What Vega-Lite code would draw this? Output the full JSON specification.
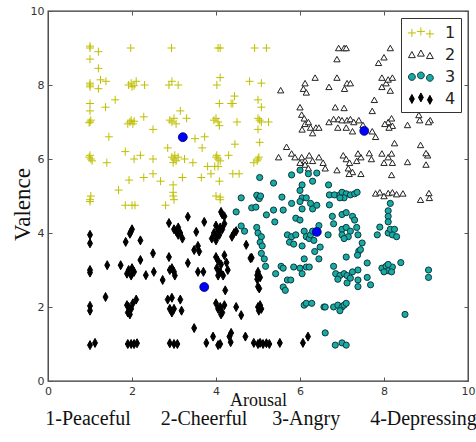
{
  "$schema": "https://vega.github.io/schema/vega-lite/v6.json",
  "width": 420,
  "height": 370,
  "autosize": {"type": "none"},
  "padding": {"left": 48, "top": 11, "right": 8, "bottom": 61},
  "background": "#ffffff",
  "config": {
    "view": {"stroke": "#333333", "strokeWidth": 1.3},
    "axis": {"grid": false, "domain": false, "labelFlush": false, "labelOverlap": false, "tickSize": -4, "tickColor": "#555555", "tickWidth": 1, "labelPadding": 8, "labelFont": "DejaVu Sans", "labelFontSize": 11, "labelColor": "#333333"}
  },
  "title": {
    "text": "1-Peaceful\u00a0\u00a0\u00a0\u00a0\u00a0 2-Cheerful\u00a0\u00a0\u00a0\u00a0 3-Angry\u00a0\u00a0\u00a0\u00a0\u00a0 4-Depressing",
    "orient": "bottom",
    "anchor": "middle",
    "baseline": "alphabetic",
    "offset": 16,
    "dx": 3,
    "font": "Liberation Serif",
    "fontSize": 20,
    "fontWeight": "normal",
    "color": "#111111"
  },
  "resolve": {"axis": {"x": "independent", "y": "independent"}},
  "layer": [
    {
      "data": {"values": [
{"a":1,"v":9,"g":"1"},{"a":1,"v":9.05,"g":"1"},{"a":1,"v":8.7,"g":"1"},{"a":1.2,"v":8.9,"g":"1"},{"a":1.2,"v":8.45,"g":"1"},{"a":1.97,"v":9,"g":"1"},{"a":2.94,"v":9,"g":"1"},{"a":4.05,"v":9,"g":"1"},{"a":4.1,"v":9,"g":"1"},{"a":4.92,"v":9,"g":"1"},{"a":5.2,"v":9,"g":"1"},
{"a":1,"v":8.0,"g":"1"},{"a":1,"v":8.05,"g":"1"},{"a":1,"v":7.95,"g":"1"},{"a":1.25,"v":8.14,"g":"1"},{"a":1.2,"v":7.9,"g":"1"},{"a":1.38,"v":8.1,"g":"1"},{"a":1.92,"v":8.0,"g":"1"},{"a":1.98,"v":8.05,"g":"1"},{"a":2.0,"v":7.95,"g":"1"},{"a":2.1,"v":8.1,"g":"1"},{"a":2.05,"v":7.98,"g":"1"},{"a":2.3,"v":8.0,"g":"1"},{"a":2.88,"v":8.0,"g":"1"},{"a":2.95,"v":8.1,"g":"1"},{"a":3.1,"v":8.0,"g":"1"},{"a":4.02,"v":8.0,"g":"1"},{"a":4.1,"v":8.2,"g":"1"},{"a":4.44,"v":7.7,"g":"1"},{"a":4.8,"v":8.1,"g":"1"},{"a":5.08,"v":8.05,"g":"1"},{"a":5.0,"v":7.6,"g":"1"},{"a":5.08,"v":7.4,"g":"1"},{"a":4.4,"v":7.5,"g":"1"},{"a":4.08,"v":7.5,"g":"1"},
{"a":1,"v":7.5,"g":"1"},{"a":1.37,"v":7.4,"g":"1"},{"a":1.6,"v":7.6,"g":"1"},{"a":1,"v":7.3,"g":"1"},
{"a":1,"v":7.0,"g":"1"},{"a":1.02,"v":7.05,"g":"1"},{"a":0.98,"v":6.98,"g":"1"},{"a":1.95,"v":7.0,"g":"1"},{"a":1.98,"v":7.05,"g":"1"},{"a":2.02,"v":6.95,"g":"1"},{"a":2.05,"v":7.02,"g":"1"},{"a":1.9,"v":6.95,"g":"1"},{"a":2.28,"v":7.14,"g":"1"},{"a":2.5,"v":6.8,"g":"1"},{"a":2.95,"v":7.0,"g":"1"},{"a":3.0,"v":7.1,"g":"1"},{"a":3.05,"v":6.95,"g":"1"},{"a":2.9,"v":7.05,"g":"1"},{"a":3.15,"v":7.3,"g":"1"},{"a":3.3,"v":7.1,"g":"1"},{"a":4.0,"v":7.1,"g":"1"},{"a":4.05,"v":7.0,"g":"1"},{"a":3.95,"v":7.05,"g":"1"},{"a":4.08,"v":6.9,"g":"1"},{"a":4.36,"v":7.5,"g":"1"},{"a":4.5,"v":7.0,"g":"1"},{"a":5.04,"v":7.05,"g":"1"},{"a":5.0,"v":7.1,"g":"1"},{"a":5.08,"v":7.0,"g":"1"},{"a":5.25,"v":7.0,"g":"1"},{"a":5.0,"v":6.8,"g":"1"},{"a":5.04,"v":6.45,"g":"1"},
{"a":1.45,"v":6.6,"g":"1"},{"a":1,"v":6.1,"g":"1"},{"a":1.02,"v":6.0,"g":"1"},{"a":0.98,"v":6.05,"g":"1"},{"a":1.05,"v":5.95,"g":"1"},{"a":1.4,"v":5.9,"g":"1"},{"a":1.84,"v":6.2,"g":"1"},{"a":2.05,"v":6.0,"g":"1"},{"a":2.2,"v":6.1,"g":"1"},{"a":2.5,"v":6.0,"g":"1"},{"a":2.85,"v":6.3,"g":"1"},{"a":3.0,"v":6.0,"g":"1"},{"a":2.95,"v":6.05,"g":"1"},{"a":3.05,"v":5.95,"g":"1"},{"a":3.02,"v":6.1,"g":"1"},{"a":2.98,"v":5.9,"g":"1"},{"a":3.1,"v":6.05,"g":"1"},{"a":3.25,"v":6.0,"g":"1"},{"a":3.45,"v":5.9,"g":"1"},{"a":3.67,"v":6.3,"g":"1"},{"a":3.73,"v":6.6,"g":"1"},{"a":3.5,"v":6.55,"g":"1"},{"a":4.05,"v":6.0,"g":"1"},{"a":4.0,"v":6.05,"g":"1"},{"a":4.1,"v":5.95,"g":"1"},{"a":4.02,"v":6.1,"g":"1"},{"a":4.3,"v":6.1,"g":"1"},{"a":4.45,"v":6.4,"g":"1"},{"a":3.8,"v":5.8,"g":"1"},{"a":5.0,"v":6.0,"g":"1"},{"a":5.02,"v":6.05,"g":"1"},{"a":4.98,"v":5.95,"g":"1"},{"a":4.9,"v":5.9,"g":"1"},{"a":4.05,"v":5.8,"g":"1"},{"a":3.97,"v":5.8,"g":"1"},
{"a":1.68,"v":5.16,"g":"1"},{"a":1.93,"v":5.43,"g":"1"},{"a":2.28,"v":5.5,"g":"1"},{"a":2.5,"v":5.6,"g":"1"},{"a":2.68,"v":5.4,"g":"1"},{"a":2.98,"v":5.3,"g":"1"},{"a":2.98,"v":5.1,"g":"1"},{"a":3.2,"v":5.5,"g":"1"},{"a":3.65,"v":5.5,"g":"1"},{"a":3.88,"v":5.6,"g":"1"},{"a":4.08,"v":5.4,"g":"1"},{"a":4.4,"v":5.6,"g":"1"},{"a":4.55,"v":5.6,"g":"1"},
{"a":1,"v":4.9,"g":"1"},{"a":1,"v":4.85,"g":"1"},{"a":1.02,"v":5.0,"g":"1"},{"a":1.84,"v":4.75,"g":"1"},{"a":2.07,"v":4.75,"g":"1"},{"a":2.0,"v":4.75,"g":"1"},{"a":2.8,"v":4.75,"g":"1"},{"a":2.98,"v":5.0,"g":"1"},{"a":3.0,"v":4.9,"g":"1"},{"a":4.0,"v":5.0,"g":"1"},{"a":4.1,"v":4.9,"g":"1"},{"a":4.1,"v":4.97,"g":"1"},
{"a":6.92,"v":9.0,"g":"2"},{"a":7.05,"v":9.0,"g":"2"},{"a":7.1,"v":9.0,"g":"2"},{"a":6.88,"v":8.7,"g":"2"},{"a":8.15,"v":9.0,"g":"2"},{"a":8.0,"v":8.75,"g":"2"},{"a":7.87,"v":8.6,"g":"2"},{"a":5.54,"v":7.86,"g":"2"},
{"a":6.12,"v":8.05,"g":"2"},{"a":6.08,"v":7.9,"g":"2"},{"a":6.15,"v":7.8,"g":"2"},{"a":6.36,"v":8.2,"g":"2"},{"a":6.69,"v":7.95,"g":"2"},{"a":6.88,"v":8.2,"g":"2"},{"a":7.12,"v":8.05,"g":"2"},{"a":7.2,"v":8.05,"g":"2"},{"a":7.06,"v":7.9,"g":"2"},
{"a":7.95,"v":8.2,"g":"2"},{"a":8.05,"v":8.05,"g":"2"},{"a":8.1,"v":8.15,"g":"2"},{"a":8.2,"v":8.2,"g":"2"},{"a":7.95,"v":7.95,"g":"2"},{"a":8.15,"v":7.85,"g":"2"},
{"a":6.0,"v":7.4,"g":"2"},{"a":6.04,"v":7.2,"g":"2"},{"a":6.1,"v":7.1,"g":"2"},{"a":6.12,"v":6.95,"g":"2"},{"a":6.05,"v":6.8,"g":"2"},{"a":6.2,"v":7.0,"g":"2"},{"a":6.25,"v":6.85,"g":"2"},{"a":6.3,"v":6.7,"g":"2"},{"a":6.38,"v":6.85,"g":"2"},{"a":6.45,"v":6.85,"g":"2"},
{"a":6.84,"v":7.4,"g":"2"},{"a":7.05,"v":7.38,"g":"2"},{"a":6.69,"v":7.0,"g":"2"},{"a":6.8,"v":7.08,"g":"2"},{"a":6.92,"v":7.08,"g":"2"},{"a":7.0,"v":7.05,"g":"2"},{"a":7.12,"v":7.05,"g":"2"},{"a":7.2,"v":7.08,"g":"2"},{"a":7.28,"v":7.0,"g":"2"},{"a":6.9,"v":6.85,"g":"2"},{"a":7.1,"v":6.85,"g":"2"},{"a":7.25,"v":6.75,"g":"2"},
{"a":7.77,"v":7.6,"g":"2"},{"a":7.72,"v":7.3,"g":"2"},{"a":7.4,"v":7.05,"g":"2"},{"a":7.5,"v":6.92,"g":"2"},{"a":8.1,"v":7.0,"g":"2"},{"a":8.18,"v":7.1,"g":"2"},{"a":8.2,"v":6.9,"g":"2"},{"a":8.12,"v":6.85,"g":"2"},{"a":8.02,"v":6.95,"g":"2"},{"a":7.72,"v":6.75,"g":"2"},{"a":7.8,"v":6.6,"g":"2"},{"a":8.56,"v":6.92,"g":"2"},{"a":8.85,"v":7.05,"g":"2"},{"a":9.1,"v":7.05,"g":"2"},{"a":8.83,"v":7.19,"g":"2"},{"a":9.06,"v":7.0,"g":"2"},
{"a":5.68,"v":6.33,"g":"2"},{"a":5.8,"v":6.15,"g":"2"},{"a":5.88,"v":6.05,"g":"2"},{"a":5.49,"v":6.05,"g":"2"},{"a":6.04,"v":6.05,"g":"2"},{"a":6.12,"v":5.95,"g":"2"},{"a":6.22,"v":6.1,"g":"2"},{"a":6.3,"v":5.95,"g":"2"},{"a":6.12,"v":5.85,"g":"2"},{"a":6.0,"v":5.9,"g":"2"},{"a":6.2,"v":5.75,"g":"2"},{"a":6.45,"v":6.05,"g":"2"},{"a":6.55,"v":5.9,"g":"2"},{"a":6.6,"v":5.75,"g":"2"},{"a":6.88,"v":5.7,"g":"2"},
{"a":7.03,"v":6.1,"g":"2"},{"a":7.1,"v":6.0,"g":"2"},{"a":7.18,"v":5.9,"g":"2"},{"a":7.15,"v":5.75,"g":"2"},{"a":7.25,"v":5.65,"g":"2"},{"a":7.35,"v":5.95,"g":"2"},{"a":7.45,"v":6.05,"g":"2"},{"a":7.38,"v":6.15,"g":"2"},{"a":7.65,"v":6.16,"g":"2"},{"a":7.7,"v":6.0,"g":"2"},{"a":7.95,"v":6.15,"g":"2"},{"a":8.1,"v":6.05,"g":"2"},{"a":8.18,"v":6.15,"g":"2"},{"a":8.2,"v":5.9,"g":"2"},{"a":8.0,"v":5.9,"g":"2"},{"a":8.25,"v":6.43,"g":"2"},{"a":8.56,"v":5.92,"g":"2"},{"a":9.04,"v":6.1,"g":"2"},{"a":9.0,"v":5.85,"g":"2"},{"a":7.17,"v":5.6,"g":"2"},{"a":7.45,"v":5.6,"g":"2"},{"a":8.18,"v":5.57,"g":"2"},{"a":8.87,"v":6.38,"g":"2"},{"a":9.0,"v":6.16,"g":"2"},
{"a":7.8,"v":5.07,"g":"2"},{"a":7.9,"v":5.1,"g":"2"},{"a":8.0,"v":5.0,"g":"2"},{"a":8.1,"v":5.08,"g":"2"},{"a":8.2,"v":5.1,"g":"2"},{"a":8.3,"v":5.05,"g":"2"},{"a":8.45,"v":5.07,"g":"2"},{"a":8.87,"v":4.9,"g":"2"},{"a":9.07,"v":5.08,"g":"2"},{"a":9.08,"v":4.95,"g":"2"},
{"a":5.04,"v":5.5,"g":"3"},{"a":5.37,"v":5.35,"g":"3"},{"a":5.8,"v":5.57,"g":"3"},{"a":6.0,"v":5.7,"g":"3"},{"a":6.2,"v":5.6,"g":"3"},{"a":6.4,"v":5.62,"g":"3"},{"a":6.3,"v":5.4,"g":"3"},{"a":6.05,"v":5.3,"g":"3"},
{"a":4.6,"v":4.95,"g":"3"},{"a":5.0,"v":4.97,"g":"3"},{"a":4.97,"v":5.02,"g":"3"},{"a":5.03,"v":4.93,"g":"3"},{"a":5.06,"v":5.0,"g":"3"},{"a":4.85,"v":4.68,"g":"3"},{"a":4.95,"v":4.7,"g":"3"},{"a":4.48,"v":4.57,"g":"3"},{"a":5.2,"v":4.49,"g":"3"},{"a":5.37,"v":4.62,"g":"3"},{"a":5.4,"v":4.3,"g":"3"},{"a":5.6,"v":4.62,"g":"3"},{"a":5.57,"v":4.97,"g":"3"},{"a":5.8,"v":4.8,"g":"3"},
{"a":6.0,"v":5.15,"g":"3"},{"a":6.05,"v":4.95,"g":"3"},{"a":6.15,"v":4.95,"g":"3"},{"a":6.0,"v":4.85,"g":"3"},{"a":6.25,"v":4.8,"g":"3"},{"a":6.3,"v":4.65,"g":"3"},{"a":6.4,"v":4.75,"g":"3"},{"a":6.05,"v":4.65,"g":"3"},{"a":5.9,"v":4.4,"g":"3"},{"a":6.0,"v":4.35,"g":"3"},
{"a":4.6,"v":4.19,"g":"3"},{"a":4.68,"v":4.05,"g":"3"},{"a":4.97,"v":4.15,"g":"3"},{"a":5.0,"v":4.0,"g":"3"},{"a":5.08,"v":3.9,"g":"3"},{"a":5.05,"v":3.75,"g":"3"},{"a":5.1,"v":3.65,"g":"3"},{"a":5.08,"v":3.45,"g":"3"},{"a":5.15,"v":3.3,"g":"3"},{"a":5.18,"v":3.1,"g":"3"},
{"a":5.7,"v":3.95,"g":"3"},{"a":5.8,"v":3.9,"g":"3"},{"a":5.75,"v":3.75,"g":"3"},{"a":5.85,"v":3.7,"g":"3"},{"a":5.9,"v":3.95,"g":"3"},{"a":6.1,"v":4.05,"g":"3"},{"a":6.15,"v":3.9,"g":"3"},{"a":6.22,"v":3.85,"g":"3"},{"a":6.25,"v":3.95,"g":"3"},{"a":6.3,"v":4.05,"g":"3"},{"a":6.33,"v":3.8,"g":"3"},{"a":6.05,"v":3.65,"g":"3"},
{"a":6.45,"v":4.2,"g":"3"},{"a":6.48,"v":3.62,"g":"3"},{"a":6.35,"v":3.5,"g":"3"},{"a":6.1,"v":3.3,"g":"3"},{"a":6.45,"v":3.3,"g":"3"},
{"a":5.42,"v":2.9,"g":"3"},{"a":5.55,"v":3.1,"g":"3"},{"a":5.6,"v":3.05,"g":"3"},{"a":5.7,"v":2.73,"g":"3"},{"a":5.78,"v":2.73,"g":"3"},{"a":5.6,"v":2.54,"g":"3"},{"a":5.65,"v":2.45,"g":"3"},{"a":5.85,"v":3.08,"g":"3"},{"a":6.0,"v":3.05,"g":"3"},{"a":6.05,"v":2.9,"g":"3"},{"a":6.15,"v":3.08,"g":"3"},{"a":6.22,"v":3.08,"g":"3"},
{"a":6.1,"v":2.05,"g":"3"},{"a":6.15,"v":2.1,"g":"3"},{"a":6.28,"v":2.1,"g":"3"},{"a":6.57,"v":2.0,"g":"3"},
{"a":6.68,"v":5.3,"g":"3"},{"a":6.7,"v":5.03,"g":"3"},{"a":6.82,"v":5.03,"g":"3"},{"a":6.95,"v":5.03,"g":"3"},{"a":7.0,"v":5.1,"g":"3"},{"a":7.1,"v":5.06,"g":"3"},{"a":7.2,"v":5.03,"g":"3"},{"a":7.3,"v":5.06,"g":"3"},{"a":7.36,"v":5.1,"g":"3"},{"a":7.05,"v":4.95,"g":"3"},{"a":6.95,"v":4.95,"g":"3"},{"a":6.7,"v":4.76,"g":"3"},{"a":8.15,"v":4.8,"g":"3"},
{"a":7.0,"v":4.5,"g":"3"},{"a":7.1,"v":4.55,"g":"3"},{"a":7.25,"v":4.45,"g":"3"},{"a":7.3,"v":4.35,"g":"3"},{"a":6.77,"v":4.45,"g":"3"},{"a":6.8,"v":4.25,"g":"3"},
{"a":7.0,"v":4.1,"g":"3"},{"a":7.1,"v":4.15,"g":"3"},{"a":7.2,"v":4.05,"g":"3"},{"a":7.35,"v":4.15,"g":"3"},{"a":7.0,"v":3.95,"g":"3"},{"a":7.15,"v":3.9,"g":"3"},{"a":7.38,"v":3.95,"g":"3"},{"a":7.05,"v":3.85,"g":"3"},{"a":6.67,"v":3.95,"g":"3"},{"a":7.48,"v":3.73,"g":"3"},{"a":7.4,"v":3.51,"g":"3"},{"a":7.44,"v":3.55,"g":"3"},{"a":7.1,"v":3.35,"g":"3"},{"a":7.37,"v":3.4,"g":"3"},
{"a":6.8,"v":3.1,"g":"3"},{"a":6.85,"v":2.9,"g":"3"},{"a":6.95,"v":2.85,"g":"3"},{"a":7.05,"v":2.9,"g":"3"},{"a":7.12,"v":2.85,"g":"3"},{"a":7.2,"v":2.78,"g":"3"},{"a":7.25,"v":2.95,"g":"3"},{"a":6.9,"v":2.75,"g":"3"},{"a":7.6,"v":3.19,"g":"3"},{"a":7.38,"v":3.0,"g":"3"},{"a":7.38,"v":2.73,"g":"3"},{"a":7.38,"v":2.55,"g":"3"},{"a":7.6,"v":2.8,"g":"3"},{"a":7.68,"v":2.6,"g":"3"},{"a":7.12,"v":2.65,"g":"3"},
{"a":7.9,"v":4.16,"g":"3"},{"a":7.84,"v":3.95,"g":"3"},{"a":8.1,"v":4.6,"g":"3"},{"a":8.1,"v":4.45,"g":"3"},{"a":8.1,"v":4.3,"g":"3"},{"a":8.1,"v":4.0,"g":"3"},{"a":8.2,"v":3.95,"g":"3"},{"a":8.15,"v":4.1,"g":"3"},{"a":8.25,"v":4.1,"g":"3"},{"a":8.3,"v":3.9,"g":"3"},
{"a":7.95,"v":3.05,"g":"3"},{"a":8.05,"v":3.1,"g":"3"},{"a":8.1,"v":2.98,"g":"3"},{"a":8.2,"v":3.08,"g":"3"},{"a":8.0,"v":2.95,"g":"3"},{"a":8.18,"v":2.95,"g":"3"},{"a":8.1,"v":3.15,"g":"3"},{"a":8.4,"v":3.2,"g":"3"},{"a":9.06,"v":3.0,"g":"3"},{"a":9.06,"v":2.8,"g":"3"},{"a":8.5,"v":1.8,"g":"3"},
{"a":6.6,"v":2.0,"g":"3"},{"a":6.8,"v":2.0,"g":"3"},{"a":6.9,"v":2.05,"g":"3"},{"a":7.0,"v":2.0,"g":"3"},{"a":7.05,"v":2.05,"g":"3"},{"a":7.1,"v":2.1,"g":"3"},{"a":6.95,"v":1.9,"g":"3"},{"a":6.6,"v":1.3,"g":"3"},{"a":6.84,"v":0.97,"g":"3"},{"a":7.0,"v":1.03,"g":"3"},{"a":7.1,"v":0.97,"g":"3"},
{"a":1.0,"v":3.95,"g":"4"},{"a":1.0,"v":3.72,"g":"4"},{"a":1.97,"v":4.03,"g":"4"},{"a":2.0,"v":4.1,"g":"4"},{"a":1.95,"v":3.98,"g":"4"},{"a":1.85,"v":3.76,"g":"4"},{"a":2.2,"v":3.8,"g":"4"},{"a":2.5,"v":3.45,"g":"4"},
{"a":2.88,"v":4.27,"g":"4"},{"a":3.0,"v":4.1,"g":"4"},{"a":3.05,"v":4.05,"g":"4"},{"a":3.1,"v":3.95,"g":"4"},{"a":3.15,"v":4.0,"g":"4"},{"a":3.2,"v":3.85,"g":"4"},{"a":3.1,"v":4.15,"g":"4"},{"a":3.33,"v":4.44,"g":"4"},{"a":3.53,"v":4.03,"g":"4"},{"a":3.48,"v":3.54,"g":"4"},{"a":3.6,"v":3.5,"g":"4"},{"a":3.57,"v":3.65,"g":"4"},{"a":3.72,"v":4.3,"g":"4"},
{"a":3.9,"v":3.85,"g":"4"},{"a":3.95,"v":4.0,"g":"4"},{"a":4.0,"v":4.2,"g":"4"},{"a":4.05,"v":4.05,"g":"4"},{"a":4.1,"v":4.15,"g":"4"},{"a":4.02,"v":3.9,"g":"4"},{"a":4.08,"v":3.95,"g":"4"},{"a":4.15,"v":4.1,"g":"4"},{"a":4.2,"v":4.25,"g":"4"},{"a":4.15,"v":4.5,"g":"4"},{"a":4.2,"v":4.45,"g":"4"},{"a":4.12,"v":4.57,"g":"4"},{"a":4.0,"v":3.8,"g":"4"},{"a":4.43,"v":4.0,"g":"4"},{"a":4.48,"v":4.05,"g":"4"},{"a":4.38,"v":3.9,"g":"4"},
{"a":1.0,"v":3.0,"g":"4"},{"a":1.0,"v":2.93,"g":"4"},{"a":1.41,"v":3.13,"g":"4"},{"a":1.73,"v":3.13,"g":"4"},{"a":1.92,"v":3.0,"g":"4"},{"a":2.0,"v":3.05,"g":"4"},{"a":2.05,"v":2.95,"g":"4"},{"a":1.98,"v":2.85,"g":"4"},{"a":1.88,"v":2.9,"g":"4"},{"a":2.2,"v":3.27,"g":"4"},{"a":2.33,"v":2.86,"g":"4"},{"a":2.52,"v":2.95,"g":"4"},{"a":2.73,"v":2.73,"g":"4"},{"a":2.9,"v":3.0,"g":"4"},{"a":2.95,"v":3.05,"g":"4"},{"a":3.0,"v":2.95,"g":"4"},{"a":3.02,"v":2.85,"g":"4"},{"a":2.88,"v":3.35,"g":"4"},{"a":3.33,"v":3.19,"g":"4"},{"a":3.57,"v":2.95,"g":"4"},{"a":3.7,"v":2.95,"g":"4"},
{"a":4.0,"v":3.35,"g":"4"},{"a":4.05,"v":3.25,"g":"4"},{"a":4.12,"v":3.15,"g":"4"},{"a":4.02,"v":3.05,"g":"4"},{"a":4.1,"v":2.95,"g":"4"},{"a":4.17,"v":2.85,"g":"4"},{"a":4.05,"v":2.85,"g":"4"},{"a":4.2,"v":3.4,"g":"4"},{"a":4.25,"v":3.2,"g":"4"},{"a":4.28,"v":3.0,"g":"4"},{"a":4.72,"v":3.68,"g":"4"},{"a":4.85,"v":3.33,"g":"4"},{"a":4.82,"v":3.32,"g":"4"},{"a":4.98,"v":2.86,"g":"4"},{"a":5.0,"v":2.95,"g":"4"},{"a":5.05,"v":2.8,"g":"4"},{"a":4.98,"v":2.75,"g":"4"},{"a":5.0,"v":2.55,"g":"4"},{"a":5.03,"v":2.5,"g":"4"},
{"a":1.0,"v":2.03,"g":"4"},{"a":1.0,"v":1.9,"g":"4"},{"a":1.37,"v":2.27,"g":"4"},{"a":1.88,"v":2.05,"g":"4"},{"a":1.92,"v":2.0,"g":"4"},{"a":1.98,"v":1.95,"g":"4"},{"a":2.02,"v":2.1,"g":"4"},{"a":2.1,"v":2.2,"g":"4"},{"a":1.95,"v":1.8,"g":"4"},{"a":1.9,"v":1.85,"g":"4"},{"a":2.85,"v":2.2,"g":"4"},{"a":2.95,"v":2.25,"g":"4"},{"a":2.9,"v":1.95,"g":"4"},{"a":2.95,"v":1.85,"g":"4"},{"a":3.0,"v":1.95,"g":"4"},{"a":3.15,"v":2.2,"g":"4"},{"a":3.18,"v":1.9,"g":"4"},
{"a":4.0,"v":2.1,"g":"4"},{"a":4.1,"v":2.0,"g":"4"},{"a":4.15,"v":1.85,"g":"4"},{"a":4.2,"v":2.05,"g":"4"},{"a":4.12,"v":1.8,"g":"4"},{"a":4.05,"v":1.95,"g":"4"},{"a":4.22,"v":2.45,"g":"4"},{"a":4.48,"v":2.0,"g":"4"},{"a":4.6,"v":1.78,"g":"4"},{"a":5.0,"v":2.0,"g":"4"},{"a":5.05,"v":2.05,"g":"4"},{"a":5.08,"v":1.95,"g":"4"},{"a":5.02,"v":1.9,"g":"4"},
{"a":3.48,"v":1.43,"g":"4"},{"a":1.0,"v":0.97,"g":"4"},{"a":1.12,"v":1.03,"g":"4"},{"a":1.9,"v":1.0,"g":"4"},{"a":1.98,"v":1.0,"g":"4"},{"a":2.05,"v":1.0,"g":"4"},{"a":2.12,"v":1.02,"g":"4"},{"a":2.9,"v":1.02,"g":"4"},{"a":3.0,"v":1.0,"g":"4"},{"a":3.08,"v":1.0,"g":"4"},
{"a":3.77,"v":1.03,"g":"4"},{"a":3.93,"v":1.2,"g":"4"},{"a":4.05,"v":0.97,"g":"4"},{"a":4.1,"v":1.0,"g":"4"},{"a":4.32,"v":1.2,"g":"4"},{"a":4.35,"v":1.05,"g":"4"},{"a":4.36,"v":1.3,"g":"4"},{"a":4.7,"v":1.2,"g":"4"},{"a":4.9,"v":1.03,"g":"4"},{"a":5.0,"v":1.0,"g":"4"},{"a":5.05,"v":1.03,"g":"4"},{"a":5.12,"v":1.0,"g":"4"},{"a":5.2,"v":1.02,"g":"4"},{"a":5.27,"v":1.0,"g":"4"},{"a":5.52,"v":1.03,"g":"4"},{"a":6.07,"v":1.03,"g":"4"},{"a":6.19,"v":1.2,"g":"4"}
      ]},
      "mark": {"type": "point", "opacity": 1, "strokeWidth": 1},
      "encoding": {
        "x": {"field": "a", "type": "quantitative", "scale": {"domain": [0, 10], "nice": false, "zero": false},
              "axis": {"orient": "bottom", "values": [0, 2, 4, 6, 8, 10], "title": "Arousal", "titleFont": "Liberation Serif", "titleFontSize": 18, "titleFontWeight": "normal", "titleColor": "#111111", "titleY": 24, "titleBaseline": "alphabetic"}},
        "y": {"field": "v", "type": "quantitative", "scale": {"domain": [0, 10], "nice": false, "zero": false},
              "axis": {"orient": "left", "values": [0, 2, 4, 6, 8, 10], "title": "Valence", "titleFont": "Liberation Serif", "titleFontSize": 23, "titleFontWeight": "normal", "titleColor": "#111111", "titleAngle": -90, "titleX": -26, "titleY": 193, "titleBaseline": "middle", "titleAlign": "center"}},
        "shape": {"condition": [{"test": "datum.g==='1'", "value": "M-1,0L1,0M0,-1L0,1"}, {"test": "datum.g==='2'", "value": "triangle-up"}, {"test": "datum.g==='4'", "value": "M0,-1L0.55,0L0,1L-0.55,0Z"}], "value": "circle"},
        "fill": {"condition": [{"test": "datum.g==='1'", "value": "#bfbf00"}, {"test": "datum.g==='2'", "value": "#ffffff"}, {"test": "datum.g==='4'", "value": "#000000"}], "value": "#17aaa6"},
        "stroke": {"condition": [{"test": "datum.g==='1'", "value": "#bfbf00"}, {"test": "datum.g==='2'", "value": "#222222"}, {"test": "datum.g==='4'", "value": "#000000"}], "value": "#0f3a3a"},
        "size": {"condition": [{"test": "datum.g==='1'", "value": 64}, {"test": "datum.g==='2'", "value": 40}, {"test": "datum.g==='4'", "value": 81}], "value": 38}
      }
    },
    {
      "data": {"values": [
        {"a": 3.21, "v": 6.59}, {"a": 7.53, "v": 6.76}, {"a": 6.40, "v": 4.03}, {"a": 3.72, "v": 2.54}
      ]},
      "mark": {"type": "point", "shape": "circle", "filled": true, "opacity": 1, "fill": "#0000ff", "stroke": "#000066", "strokeWidth": 0.8, "size": 80},
      "encoding": {
        "x": {"field": "a", "type": "quantitative", "scale": {"domain": [0, 10], "nice": false, "zero": false},
              "axis": {"orient": "top", "values": [0, 2, 4, 6, 8, 10], "labels": false, "title": null}},
        "y": {"field": "v", "type": "quantitative", "scale": {"domain": [0, 10], "nice": false, "zero": false},
              "axis": {"orient": "right", "values": [0, 2, 4, 6, 8, 10], "labels": false, "title": null}}
      }
    },
    {
      "data": {"values": [{"a": 0, "v": 0, "g": "1"}]},
      "transform": [{"filter": "false"}],
      "mark": {"type": "point", "opacity": 1, "strokeWidth": 1, "size": 324},
      "encoding": {
        "x": {"field": "a", "type": "quantitative", "axis": null},
        "y": {"field": "v", "type": "quantitative", "axis": null},
        "shape": {"field": "g", "type": "nominal",
                  "scale": {"domain": ["1", "2", "3", "4"], "range": [
                    "M-0.85,0.05L0.05,0.05M-0.4,-0.4L-0.4,0.5M0.15,-0.12L1.05,-0.12M0.6,-0.57L0.6,0.33M1.15,0.15L2.05,0.15M1.6,-0.3L1.6,0.6",
                    "M-0.4,-0.33L-0.02,0.35L-0.78,0.35ZM0.6,-0.5L0.98,0.18L0.22,0.18ZM1.6,-0.23L1.98,0.45L1.22,0.45Z",
                    "M-0.78,0.05A0.38,0.38 0 1,0 -0.02,0.05A0.38,0.38 0 1,0 -0.78,0.05ZM0.22,-0.12A0.38,0.38 0 1,0 0.98,-0.12A0.38,0.38 0 1,0 0.22,-0.12ZM1.22,0.15A0.38,0.38 0 1,0 1.98,0.15A0.38,0.38 0 1,0 1.22,0.15Z",
                    "M-0.4,-0.45L-0.13,0.05L-0.4,0.55L-0.67,0.05ZM0.6,-0.62L0.87,-0.12L0.6,0.38L0.33,-0.12ZM1.6,-0.35L1.87,0.15L1.6,0.65L1.33,0.15Z"]},
                  "legend": {"title": null, "orient": "top-right", "offset": 7, "padding": 5, "strokeColor": "#333333", "fillColor": "#ffffff", "cornerRadius": 0, "labelFont": "DejaVu Sans", "labelFontSize": 16, "labelColor": "#222222", "rowPadding": 4, "labelOffset": 20, "symbolSize": 324, "symbolStrokeWidth": 1}},
        "fill": {"field": "g", "type": "nominal", "scale": {"domain": ["1", "2", "3", "4"], "range": ["#bfbf00", "#ffffff", "#17aaa6", "#000000"]}},
        "stroke": {"field": "g", "type": "nominal", "scale": {"domain": ["1", "2", "3", "4"], "range": ["#bfbf00", "#222222", "#0f3a3a", "#000000"]}}
      }
    }
  ]
}
